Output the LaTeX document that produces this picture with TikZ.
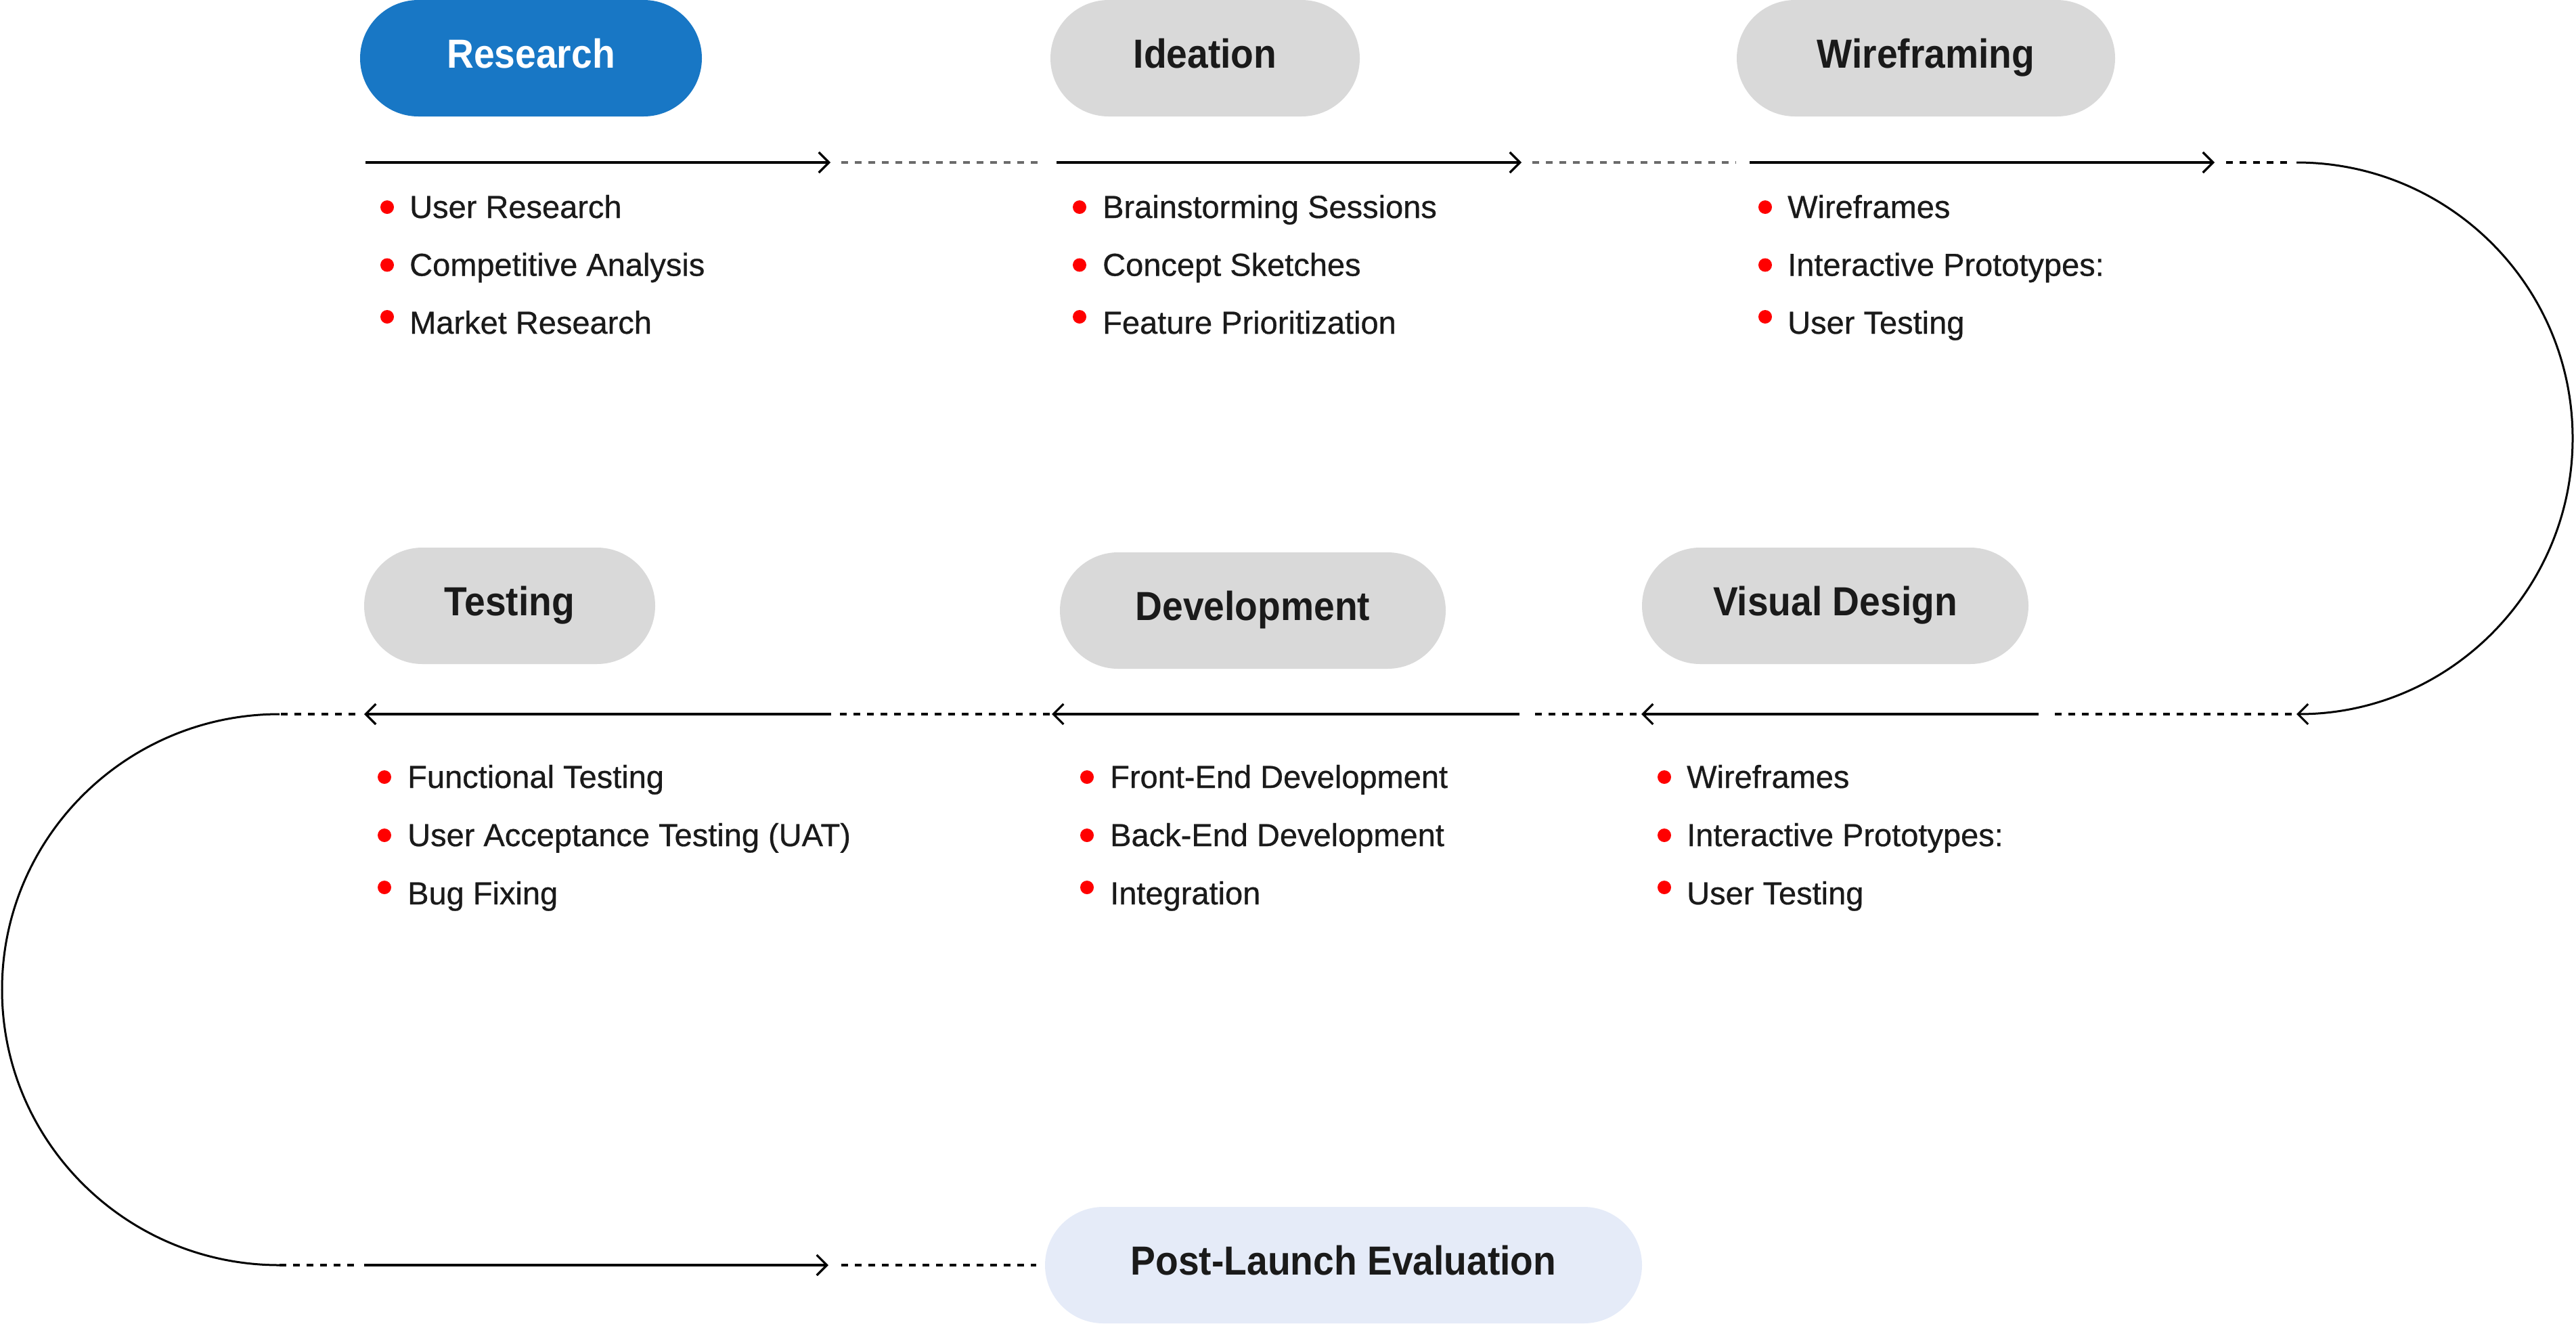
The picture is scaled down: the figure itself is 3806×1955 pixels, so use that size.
\documentclass[tikz,border=0pt]{standalone}
\usepackage{fontspec}
\setmainfont{Liberation Sans}
\newfontfamily\headfont{Liberation Sans}[FakeStretch=0.92]
\newfontfamily\itemfont{Liberation Sans}[FakeBold=0.6]
\usetikzlibrary{arrows.meta}
\definecolor{pillblue}{RGB}{24,119,197}
\definecolor{pillgray}{RGB}{217,217,217}
\definecolor{pilllight}{RGB}{229,235,248}
\definecolor{dotgray}{RGB}{107,107,107}
\definecolor{txt}{RGB}{26,26,26}
\definecolor{bulred}{RGB}{255,0,0}
\tikzset{
  pill/.style={rectangle, rounded corners=86pt, minimum height=172pt, inner sep=0pt,
    text height=43pt, text depth=15pt, text=txt,
    font={\headfont\bfseries\fontsize{60}{72}\selectfont}},
  item/.style={anchor=base west, inner sep=0pt, text=txt,
    font={\itemfont\fontsize{47}{56}\selectfont}},
  bul/.style={circle, fill=bulred, minimum size=20pt, inner sep=0pt},
  solidarrow/.style={line width=3.3pt, -{Straight Barb[length=15pt,width=30pt]}},
  dotline/.style={line width=3.3pt, dash pattern=on 10pt off 10pt},
  arcline/.style={line width=3pt, -{Straight Barb[length=15pt,width=30pt]}}
}
\begin{document}
\begin{tikzpicture}[x=1pt,y=-1pt]
\useasboundingbox (0,0) rectangle (3806,1955);

% pills
\node[pill, fill=pillblue, text=white, minimum width=505pt] (research) at (784.5,86) {Research};
\node[pill, fill=pillgray, minimum width=457pt] (ideation) at (1780.5,86) {Ideation};
\node[pill, fill=pillgray, minimum width=559pt] (wire) at (2845.5,86) {Wireframing};
\node[pill, fill=pillgray, minimum width=430pt] (testing) at (753,895) {Testing};
\node[pill, fill=pillgray, minimum width=570pt] (dev) at (1851,902) {Development};
\node[pill, fill=pillgray, minimum width=571pt] (visual) at (2711.5,895) {Visual Design};
\node[pill, fill=pilllight, minimum width=882pt] (post) at (1985,1869) {Post-Launch Evaluation};

% coordinates of the path
\coordinate (c11) at (540,240);  \coordinate (c12) at (1227,240);
\coordinate (d11) at (1243,240); \coordinate (d12) at (1543,240);
\coordinate (c21) at (1561,240); \coordinate (c22) at (2248,240);
\coordinate (d21) at (2264,240); \coordinate (d22) at (2565,240);
\coordinate (c31) at (2585,240); \coordinate (c32) at (3272,240);
\coordinate (d31) at (3289,240); \coordinate (d32) at (3386,240);
\coordinate (ar1) at (3393,240); \coordinate (ar2) at (3393,1055);
\coordinate (d41) at (3386,1055); \coordinate (d42) at (3029,1055);
\coordinate (c41) at (3012,1055); \coordinate (c42) at (2425,1055);
\coordinate (d51) at (2418,1055); \coordinate (d52) at (2263,1055);
\coordinate (c51) at (2245,1055); \coordinate (c52) at (1554,1055);
\coordinate (d61) at (1551,1055); \coordinate (d62) at (1238,1055);
\coordinate (c61) at (1228,1055); \coordinate (c62) at (538,1055);
\coordinate (d71) at (525,1055);  \coordinate (d72) at (413,1055);
\coordinate (al1) at (413,1055);  \coordinate (al2) at (413,1869);
\coordinate (d81) at (413,1869);  \coordinate (d82) at (525,1869);
\coordinate (c71) at (538,1869);  \coordinate (c72) at (1224,1869);
\coordinate (d91) at (1243,1869);

% row 1
\draw[solidarrow] (c11) -- (c12);
\draw[dotline, dotgray] (d11) -- (d12);
\draw[solidarrow] (c21) -- (c22);
\draw[dotline, dotgray] (d21) -- (d22);
\draw[solidarrow] (c31) -- (c32);
\draw[dotline] (d31) -- (d32);
\draw[arcline] (ar1) arc[start angle=-90, end angle=90, x radius=408, y radius=407.5];
% row 2
\draw[dotline] (d41) -- (d42);
\draw[solidarrow] (c41) -- (c42);
\draw[dotline] (d51) -- (d52);
\draw[solidarrow] (c51) -- (c52);
\draw[dotline] (d61) -- (d62);
\draw[solidarrow] (c61) -- (c62);
\draw[dotline] (d71) -- (d72);
\draw[line width=3pt] (al1) arc[start angle=270, end angle=90, x radius=410, y radius=407];
% row 3
\draw[dotline] (d81) -- (d82);
\draw[solidarrow] (c71) -- (c72);
\draw[dotline] (d91) -- ([xshift=-13pt]post.west);

% lists row 1
\node[bul] (b11) at (572,306) {};  \node[item] (t11) at (605,322) {User Research};
\node[bul] (b12) at (572,391.5) {};\node[item] (t12) at (605,407.5) {Competitive Analysis};
\node[bul] (b13) at (572,468) {};  \node[item] (t13) at (605,493) {Market Research};

\node[bul] (b21) at (1595,306) {};  \node[item] (t21) at (1629,322) {Brainstorming Sessions};
\node[bul] (b22) at (1595,391.5) {};\node[item] (t22) at (1629,407.5) {Concept Sketches};
\node[bul] (b23) at (1595,468) {};  \node[item] (t23) at (1629,493) {Feature Prioritization};

\node[bul] (b31) at (2608,306) {};  \node[item] (t31) at (2641,322) {Wireframes};
\node[bul] (b32) at (2608,391.5) {};\node[item] (t32) at (2641,407.5) {Interactive Prototypes:};
\node[bul] (b33) at (2608,468) {};  \node[item] (t33) at (2641,493) {User Testing};

% lists row 2
\node[bul] (b41) at (568,1148) {};  \node[item] (t41) at (602,1164) {Functional Testing};
\node[bul] (b42) at (568,1234) {};  \node[item] (t42) at (602,1250) {User Acceptance Testing (UAT)};
\node[bul] (b43) at (568,1311) {};  \node[item] (t43) at (602,1336) {Bug Fixing};

\node[bul] (b51) at (1606,1148) {}; \node[item] (t51) at (1640,1164) {Front-End Development};
\node[bul] (b52) at (1606,1234) {}; \node[item] (t52) at (1640,1250) {Back-End Development};
\node[bul] (b53) at (1606,1311) {}; \node[item] (t53) at (1640,1336) {Integration};

\node[bul] (b61) at (2459,1148) {}; \node[item] (t61) at (2492,1164) {Wireframes};
\node[bul] (b62) at (2459,1234) {}; \node[item] (t62) at (2492,1250) {Interactive Prototypes:};
\node[bul] (b63) at (2459,1311) {}; \node[item] (t63) at (2492,1336) {User Testing};
\end{tikzpicture}
\end{document}
